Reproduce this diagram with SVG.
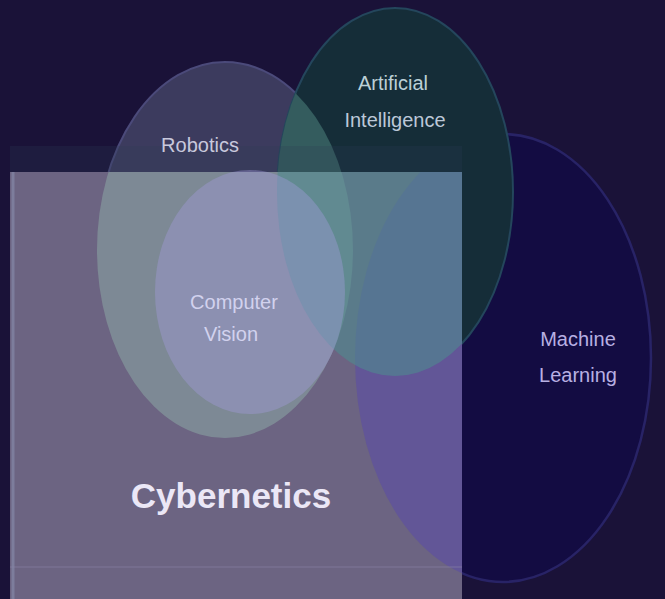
<svg xmlns="http://www.w3.org/2000/svg" width="665" height="599" viewBox="0 0 665 599">
  <style>
    .lbl { font-family: "Liberation Sans", Arial, sans-serif; text-anchor: middle; }
    .small { font-size: 20px; }
    .big { font-size: 35px; font-weight: bold; fill: #ebe7f6; }
  </style>
  <defs>
    <clipPath id="clipRect"><rect x="10" y="172" width="452" height="427"/></clipPath>
    <clipPath id="clipRob"><ellipse cx="225" cy="250" rx="128" ry="188"/></clipPath>
  </defs>
  <rect width="665" height="599" fill="#1a1238"/>
  <g id="connectors"/>
  <g id="machine-learning">
    <ellipse cx="503" cy="358" rx="148" ry="224" fill="#130c42" stroke="#282366" stroke-width="2.5"/>
  </g>
  <g id="robotics">
    <ellipse cx="225" cy="250" rx="128" ry="188" fill="#3c3b5e" stroke="#4b4a7a" stroke-width="2"/>
  </g>
  <g id="artificial-intelligence">
    <ellipse cx="395" cy="192" rx="118" ry="184" fill="#152d38" stroke="#24465c" stroke-width="2"/>
    <ellipse cx="395" cy="192" rx="118" ry="184" fill="#345c5e" clip-path="url(#clipRob)"/>
  </g>
  <g id="cybernetics">
    <rect x="10" y="146" width="452" height="26" fill="#2a3c55" opacity="0.25"/>
    <rect x="10" y="172" width="452" height="427" fill="#6c6482"/>
    <g clip-path="url(#clipRect)">
      <ellipse cx="225" cy="250" rx="128" ry="188" fill="#7f8d97" opacity="0.9"/>
      <ellipse cx="503" cy="358" rx="148" ry="224" fill="#5e50a0" opacity="0.7"/>
      <ellipse cx="395" cy="192" rx="118" ry="184" fill="#4f8a90" opacity="0.6"/>
    </g>
    <line x1="13" y1="172" x2="13" y2="599" stroke="#8e96b6" stroke-width="3" opacity="0.5"/>
    <line x1="10" y1="567" x2="462" y2="567" stroke="#8a84a8" stroke-width="2" opacity="0.3"/>
  </g>
  <g id="computer-vision">
    <ellipse cx="250" cy="292" rx="95" ry="122" fill="#a29cdc" opacity="0.4"/>
  </g>
  <g id="labels">
    <text class="lbl small" x="393" y="90" fill="#bcd0d6" font-size="21">Artificial</text>
    <text class="lbl small" x="395" y="127" fill="#bcc8d8" font-size="21">Intelligence</text>
    <text class="lbl small" x="200" y="152" fill="#c8c8dc">Robotics</text>
    <text class="lbl small" x="234" y="309" fill="#d2d2ee" font-size="21">Computer</text>
    <text class="lbl small" x="231" y="341" fill="#d2d2ee" font-size="21">Vision</text>
    <text class="lbl small" x="578" y="346" fill="#b8b0e2" font-size="21">Machine</text>
    <text class="lbl small" x="578" y="382" fill="#b8b0e2" font-size="21">Learning</text>
    <text class="lbl big" x="231" y="508">Cybernetics</text>
  </g>
</svg>
